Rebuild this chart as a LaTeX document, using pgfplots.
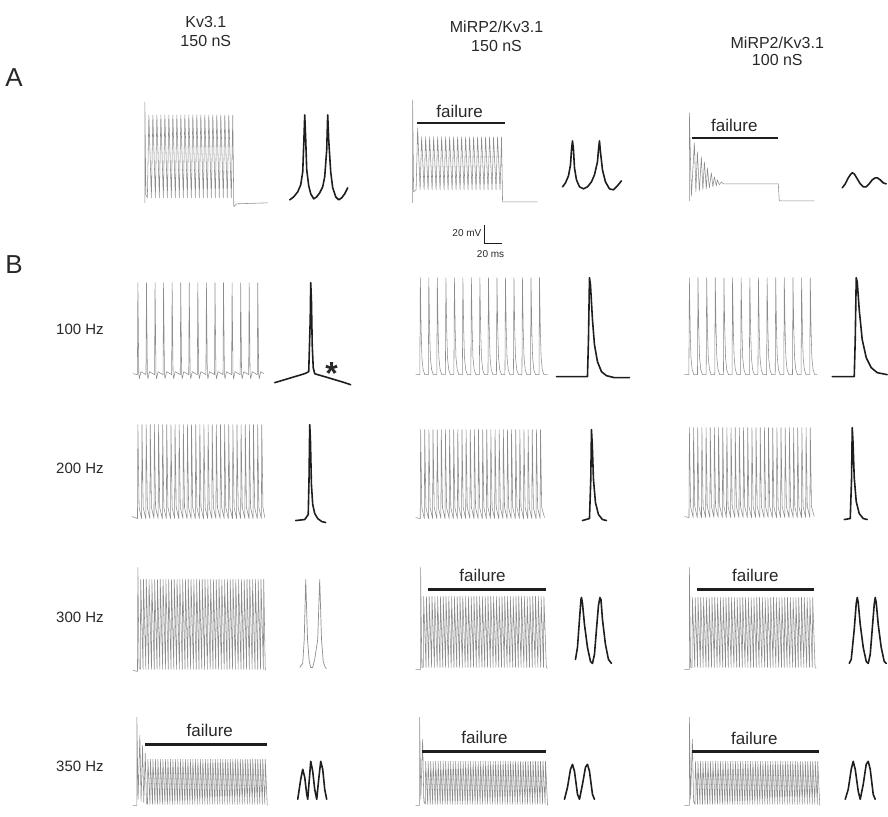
\documentclass[border=0pt]{standalone}
\usepackage{pgfplots}
\pgfplotsset{compat=1.18}
\usepackage{fontspec}
\setmainfont{Liberation Sans}
\definecolor{tr}{RGB}{140,140,140}
\definecolor{pk}{RGB}{30,30,30}
\definecolor{tx}{RGB}{40,40,40}
\begin{document}
\begin{tikzpicture}
\begin{axis}[
  scale only axis, width=888pt, height=817pt,
  xmin=0, xmax=888, ymin=0, ymax=817, y dir=reverse,
  hide axis, clip=false, no markers,
  trace/.style={tr, line width=0.55pt, line join=round},
  zoomed/.style={pk, line width=1.6pt, line join=round, line cap=round},
  bar/.style={pk, line width=2.4pt},
]
% frame that fixes the picture's extent (not drawn)
\addplot[draw=none] coordinates {(0,0)(888,817)};
% ---------- Row A ----------
\addplot[trace] coordinates {(145,203)(145,102)(146,195)(147.5,198)(149,115)(151.5,198)(153,115)(155.5,198)(157,115)(159.5,198)(161,115)(163.5,198)(165,115)(167.5,198)(169,115)(171.5,198)(173,115)(175.5,198)(177,115)(179.5,198)(181,115)(183.5,198)(185,115)(187.5,198)(189,115)(191.5,198)(193,115)(195.5,198)(197,115)(199.5,198)(201,115)(203.5,198)(205,115)(207.5,198)(209,115)(211.5,198)(213,115)(215.5,198)(217,115)(219.5,198)(221,115)(223.5,198)(225,115)(227.5,198)(229,115)(231.5,198)(233,115)(234,207)(237,204)(268,203)};
\addplot[zoomed] coordinates {(290,200)(294,197)(298,192)(301,185)(303,172)(304,145)(305,115)(306,140)(307,170)(309,186)(311,194)(314,199)(317,197)(320,193)(323,187)(325,177)(327,150)(328,115)(329,140)(331,172)(333,188)(336,197)(339,200)(342,198)(345,194)(348,188)};
\addplot[trace] coordinates {(413,203)(413,100)(414,192)(416.5,190)(418,128)(420.5,190)(422,137)(424.5,190)(426,137)(428.5,190)(430,137)(432.5,190)(434,137)(436.5,190)(438,137)(440.5,190)(442,137)(444.5,190)(446,137)(448.5,190)(450,137)(452.5,190)(454,137)(456.5,190)(458,137)(460.5,190)(462,137)(464.5,190)(466,137)(468.5,190)(470,137)(472.5,190)(474,137)(476.5,190)(478,137)(480.5,190)(482,137)(484.5,190)(486,137)(488.5,190)(490,137)(492.5,190)(494,137)(496.5,190)(498,137)(500.5,190)(502,137)(503,202)(538,202)};
\addplot[zoomed] coordinates {(563,187)(566,183)(569,176)(571,165)(572,150)(573,141)(574,150)(575,168)(577,180)(580,187)(584,189)(588,187)(592,182)(595,175)(598,162)(599,150)(600,141)(601,152)(603,170)(606,182)(610,189)(614,190)(618,186)(622,181)};
\addplot[trace] coordinates {(690,201)(690,113)(692,196)(695,143)(696.5,192)(698,152)(700,191)(702,157)(703.5,190)(705,162)(707,189)(708,168)(710,188)(712,173)(713.5,187)(715,177)(717,186)(718,180)(720,185)(722,182)(724,184)(779,184)(780,201)(815,201)};
\addplot[zoomed] coordinates {(843,188)(846,184)(849,178)(851,175)(853,173)(855,174)(858,179)(861,184)(864,187)(867,187)(870,184)(873,180)(876,178)(878,178)(881,180)(884,183)(887,184)};
\addplot[bar] coordinates {(417,123)(505,123)};
\addplot[bar] coordinates {(693,138)(779,138)};
% scale bar
\addplot[pk, line width=1.4pt] coordinates {(485,225)(485,244)(502,244)};
% ---------- 100 Hz ----------
\addplot[trace] coordinates {(133,374)(137.5,375)(138,283)(138.9,374)(139.5,379)(141,372)(146.1,375)(146.6,283)(147.5,374)(148.1,379)(149.6,372)(154.7,375)(155.2,283)(156.1,374)(156.7,379)(158.2,372)(163.2,375)(163.7,283)(164.6,374)(165.2,379)(166.7,372)(171.8,375)(172.3,283)(173.2,374)(173.8,379)(175.3,372)(180.4,375)(180.9,283)(181.8,374)(182.4,379)(183.9,372)(188.9,375)(189.4,283)(190.3,374)(190.9,379)(192.4,372)(197.5,375)(198,283)(198.9,374)(199.5,379)(201,372)(206.1,375)(206.6,283)(207.5,374)(208.1,379)(209.6,372)(214.7,375)(215.2,283)(216.1,374)(216.7,379)(218.2,372)(223.2,375)(223.7,283)(224.6,374)(225.2,379)(226.7,372)(231.8,375)(232.3,283)(233.2,374)(233.8,379)(235.3,372)(240.4,375)(240.9,283)(241.8,374)(242.4,379)(243.9,372)(248.9,375)(249.4,283)(250.3,374)(250.9,379)(252.4,372)(257.5,375)(258,283)(258.9,374)(259.5,379)(261,372)(264,374)};
\addplot[zoomed] coordinates {(275,383)(285,380)(295,377)(305,374)(309,372)(310.5,320)(311,283)(311.7,300)(312.5,345)(313.5,368)(315,374)(318,375)(325,377)(335,380)(345,383)(351,385)};
\addplot[trace] coordinates {(416,375)(420.2,375)(420.7,278)(421.5,330)(422.3,358)(423.5,370)(425.2,375)(428.7,375)(429.2,278)(430,330)(430.8,358)(432,370)(433.7,375)(437.2,375)(437.7,278)(438.5,330)(439.3,358)(440.5,370)(442.2,375)(445.8,375)(446.3,278)(447.1,330)(447.9,358)(449.1,370)(450.8,375)(454.3,375)(454.8,278)(455.6,330)(456.4,358)(457.6,370)(459.3,375)(462.8,375)(463.3,278)(464.1,330)(464.9,358)(466.1,370)(467.8,375)(471.3,375)(471.8,278)(472.6,330)(473.4,358)(474.6,370)(476.3,375)(479.8,375)(480.3,278)(481.1,330)(481.9,358)(483.1,370)(484.8,375)(488.4,375)(488.9,278)(489.7,330)(490.5,358)(491.7,370)(493.4,375)(496.9,375)(497.4,278)(498.2,330)(499,358)(500.2,370)(501.9,375)(505.4,375)(505.9,278)(506.7,330)(507.5,358)(508.7,370)(510.4,375)(513.9,375)(514.4,278)(515.2,330)(516,358)(517.2,370)(518.9,375)(522.4,375)(522.9,278)(523.7,330)(524.5,358)(525.7,370)(527.4,375)(531,375)(531.5,278)(532.3,330)(533.1,358)(534.3,370)(536,375)(539.5,375)(540,278)(540.8,330)(541.6,358)(542.8,370)(544.5,375)(548,375)};
\addplot[zoomed] coordinates {(557,377)(588,377)(589,340)(590,278)(591,285)(593,320)(595,345)(598,362)(602,372)(607,376)(615,378)(630,378)};
\addplot[trace] coordinates {(685,375)(689.5,375)(690,278)(690.8,330)(691.6,358)(692.8,370)(694.5,375)(698.1,375)(698.6,278)(699.4,330)(700.2,358)(701.4,370)(703.1,375)(706.8,375)(707.3,278)(708.1,330)(708.9,358)(710.1,370)(711.8,375)(715.4,375)(715.9,278)(716.7,330)(717.5,358)(718.7,370)(720.4,375)(724.1,375)(724.6,278)(725.4,330)(726.2,358)(727.4,370)(729.1,375)(732.7,375)(733.2,278)(734,330)(734.8,358)(736,370)(737.7,375)(741.3,375)(741.8,278)(742.6,330)(743.4,358)(744.6,370)(746.3,375)(750,375)(750.5,278)(751.3,330)(752.1,358)(753.3,370)(755,375)(758.6,375)(759.1,278)(759.9,330)(760.7,358)(761.9,370)(763.6,375)(767.3,375)(767.8,278)(768.6,330)(769.4,358)(770.6,370)(772.3,375)(775.9,375)(776.4,278)(777.2,330)(778,358)(779.2,370)(780.9,375)(784.5,375)(785,278)(785.8,330)(786.6,358)(787.8,370)(789.5,375)(793.2,375)(793.7,278)(794.5,330)(795.3,358)(796.5,370)(798.2,375)(801.8,375)(802.3,278)(803.1,330)(803.9,358)(805.1,370)(806.8,375)(810.5,375)(811,278)(811.8,330)(812.6,358)(813.8,370)(815.5,375)(818,375)};
\addplot[zoomed] coordinates {(833,377)(855,377)(856,340)(857,278)(858,282)(860,310)(863,340)(867,358)(872,368)(878,373)(888,375)};
% ---------- 200 Hz ----------
\addplot[trace] coordinates {(132,517)(137.6,519)(138,425)(139.2,508)(141.7,519)(142.1,425)(143.3,508)(145.9,519)(146.3,425)(147.5,508)(150,519)(150.4,425)(151.6,508)(154.1,519)(154.5,425)(155.7,508)(158.3,519)(158.7,425)(159.9,508)(162.4,519)(162.8,425)(164,508)(166.5,519)(166.9,425)(168.1,508)(170.7,519)(171.1,425)(172.3,508)(174.8,519)(175.2,425)(176.4,508)(178.9,519)(179.3,425)(180.5,508)(183.1,519)(183.5,425)(184.7,508)(187.2,519)(187.6,425)(188.8,508)(191.3,519)(191.7,425)(192.9,508)(195.5,519)(195.9,425)(197.1,508)(199.6,519)(200,425)(201.2,508)(203.7,519)(204.1,425)(205.3,508)(207.9,519)(208.3,425)(209.5,508)(212,519)(212.4,425)(213.6,508)(216.1,519)(216.5,425)(217.7,508)(220.3,519)(220.7,425)(221.9,508)(224.4,519)(224.8,425)(226,508)(228.5,519)(228.9,425)(230.1,508)(232.7,519)(233.1,425)(234.3,508)(236.8,519)(237.2,425)(238.4,508)(240.9,519)(241.3,425)(242.5,508)(245.1,519)(245.5,425)(246.7,508)(249.2,519)(249.6,425)(250.8,508)(253.3,519)(253.7,425)(254.9,508)(257.5,519)(257.9,425)(259.1,508)(261.6,519)(262,425)(263.2,508)(265,518)};
\addplot[zoomed] coordinates {(296,521)(305,520)(308.5,515)(309.3,480)(310,425)(310.7,440)(311.7,485)(313,505)(315,514)(318,519)(322,522)(326,523)};
\addplot[trace] coordinates {(416,518)(420.6,519)(421,430)(422.2,508)(424.7,519)(425.1,430)(426.3,508)(428.9,519)(429.3,430)(430.5,508)(433,519)(433.4,430)(434.6,508)(437.2,519)(437.6,430)(438.8,508)(441.3,519)(441.7,430)(442.9,508)(445.4,519)(445.8,430)(447,508)(449.6,519)(450,430)(451.2,508)(453.7,519)(454.1,430)(455.3,508)(457.8,519)(458.2,430)(459.4,508)(462,519)(462.4,430)(463.6,508)(466.1,519)(466.5,430)(467.7,508)(470.3,519)(470.7,430)(471.9,508)(474.4,519)(474.8,430)(476,508)(478.5,519)(478.9,430)(480.1,508)(482.7,519)(483.1,430)(484.3,508)(486.8,519)(487.2,430)(488.4,508)(490.9,519)(491.3,430)(492.5,508)(495.1,519)(495.5,430)(496.7,508)(499.2,519)(499.6,430)(500.8,508)(503.4,519)(503.8,430)(505,508)(507.5,519)(507.9,430)(509.1,508)(511.6,519)(512,430)(513.2,508)(515.8,519)(516.2,430)(517.4,508)(519.9,519)(520.3,430)(521.5,508)(524,519)(524.4,430)(525.6,508)(528.2,519)(528.6,430)(529.8,508)(532.3,519)(532.7,430)(533.9,508)(536.5,519)(536.9,430)(538.1,508)(540.6,519)(541,430)(542.2,508)(545,518)};
\addplot[zoomed] coordinates {(583,521)(590,519)(591.3,480)(592,430)(592.8,445)(594,480)(596,503)(599,515)(603,520)(607,521)};
\addplot[trace] coordinates {(685,517)(689.6,518)(690,428)(691.2,507)(693.8,518)(694.2,428)(695.4,507)(697.9,518)(698.3,428)(699.5,507)(702.1,518)(702.5,428)(703.7,507)(706.3,518)(706.7,428)(707.9,507)(710.5,518)(710.9,428)(712.1,507)(714.6,518)(715,428)(716.2,507)(718.8,518)(719.2,428)(720.4,507)(723,518)(723.4,428)(724.6,507)(727.1,518)(727.5,428)(728.7,507)(731.3,518)(731.7,428)(732.9,507)(735.5,518)(735.9,428)(737.1,507)(739.6,518)(740,428)(741.2,507)(743.8,518)(744.2,428)(745.4,507)(748,518)(748.4,428)(749.6,507)(752.2,518)(752.6,428)(753.8,507)(756.3,518)(756.7,428)(757.9,507)(760.5,518)(760.9,428)(762.1,507)(764.7,518)(765.1,428)(766.3,507)(768.8,518)(769.2,428)(770.4,507)(773,518)(773.4,428)(774.6,507)(777.2,518)(777.6,428)(778.8,507)(781.3,518)(781.7,428)(782.9,507)(785.5,518)(785.9,428)(787.1,507)(789.7,518)(790.1,428)(791.3,507)(793.9,518)(794.3,428)(795.5,507)(798,518)(798.4,428)(799.6,507)(802.2,518)(802.6,428)(803.8,507)(806.4,518)(806.8,428)(808,507)(810.6,518)(811,428)(812.2,507)(815,517)};
\addplot[zoomed] coordinates {(845,520)(851,519)(852.3,480)(853,428)(853.8,443)(855,478)(857,502)(860,514)(864,519)(868,520)};
% ---------- 300 Hz ----------
\addplot[trace] coordinates {(133,671)(137.6,672)(138,568)(139.2,668)(140.4,670)(140.8,580)(143.2,670)(143.6,580)(146,670)(146.4,580)(148.8,670)(149.2,580)(151.6,670)(152,580)(154.4,670)(154.8,580)(157.2,670)(157.6,580)(160,670)(160.4,580)(162.8,670)(163.2,580)(165.6,670)(166,580)(168.4,670)(168.8,580)(171.2,670)(171.6,580)(174,670)(174.4,580)(176.8,670)(177.2,580)(179.6,670)(180,580)(182.4,670)(182.8,580)(185.2,670)(185.6,580)(188,670)(188.4,580)(190.8,670)(191.2,580)(193.6,670)(194,580)(196.4,670)(196.8,580)(199.2,670)(199.6,580)(202,670)(202.4,580)(204.8,670)(205.2,580)(207.6,670)(208,580)(210.4,670)(210.8,580)(213.2,670)(213.6,580)(216,670)(216.4,580)(218.8,670)(219.2,580)(221.6,670)(222,580)(224.4,670)(224.8,580)(227.2,670)(227.6,580)(230,670)(230.4,580)(232.8,670)(233.2,580)(235.6,670)(236,580)(238.4,670)(238.8,580)(241.2,670)(241.6,580)(244,670)(244.4,580)(246.8,670)(247.2,580)(249.6,670)(250,580)(252.4,670)(252.8,580)(255.2,670)(255.6,580)(258,670)(258.4,580)(260.8,670)(261.2,580)(263.6,670)(264,580)(265.5,671)};
\addplot[tr, line width=0.7pt] coordinates {(300,668)(303,664)(304.5,640)(305.5,600)(306,580)(306.6,600)(307.8,640)(309.5,662)(311,668)(313,668)(315,660)(318,640)(319.3,600)(320,580)(320.6,600)(321.8,640)(323.5,662)(325.5,668)(327,669)};
\addplot[trace] coordinates {(416,670)(421,670)(421,568)(422.2,668)(423.6,668)(424,597)(426.4,668)(426.8,597)(429.2,668)(429.6,597)(432,668)(432.4,597)(434.8,668)(435.2,597)(437.6,668)(438,597)(440.4,668)(440.8,597)(443.2,668)(443.6,597)(446,668)(446.4,597)(448.8,668)(449.2,597)(451.6,668)(452,597)(454.4,668)(454.8,597)(457.2,668)(457.6,597)(460,668)(460.4,597)(462.8,668)(463.2,597)(465.6,668)(466,597)(468.4,668)(468.8,597)(471.2,668)(471.6,597)(474,668)(474.4,597)(476.8,668)(477.2,597)(479.6,668)(480,597)(482.4,668)(482.8,597)(485.2,668)(485.6,597)(488,668)(488.4,597)(490.8,668)(491.2,597)(493.6,668)(494,597)(496.4,668)(496.8,597)(499.2,668)(499.6,597)(502,668)(502.4,597)(504.8,668)(505.2,597)(507.6,668)(508,597)(510.4,668)(510.8,597)(513.2,668)(513.6,597)(516,668)(516.4,597)(518.8,668)(519.2,597)(521.6,668)(522,597)(524.4,668)(524.8,597)(527.2,668)(527.6,597)(530,668)(530.4,597)(532.8,668)(533.2,597)(535.6,668)(536,597)(538.4,668)(538.8,597)(541.2,668)(541.6,597)(544,668)(544.4,597)(546.8,668)(548,669)};
\addplot[zoomed] coordinates {(576,660)(578,648)(580,620)(581.5,600)(582,598)(583,604)(585,625)(588,648)(591,662)(593,664)(595,655)(597,630)(599,606)(600.5,598)(601.5,600)(603,620)(606,645)(609,660)(612,664)};
\addplot[trace] coordinates {(685,670)(690,670)(690,568)(691.2,668)(692.6,668)(693,598)(695.4,668)(695.8,598)(698.2,668)(698.6,598)(701,668)(701.4,598)(703.8,668)(704.2,598)(706.6,668)(707,598)(709.4,668)(709.8,598)(712.2,668)(712.6,598)(715,668)(715.4,598)(717.8,668)(718.2,598)(720.6,668)(721,598)(723.4,668)(723.8,598)(726.2,668)(726.6,598)(729,668)(729.4,598)(731.8,668)(732.2,598)(734.6,668)(735,598)(737.4,668)(737.8,598)(740.2,668)(740.6,598)(743,668)(743.4,598)(745.8,668)(746.2,598)(748.6,668)(749,598)(751.4,668)(751.8,598)(754.2,668)(754.6,598)(757,668)(757.4,598)(759.8,668)(760.2,598)(762.6,668)(763,598)(765.4,668)(765.8,598)(768.2,668)(768.6,598)(771,668)(771.4,598)(773.8,668)(774.2,598)(776.6,668)(777,598)(779.4,668)(779.8,598)(782.2,668)(782.6,598)(785,668)(785.4,598)(787.8,668)(788.2,598)(790.6,668)(791,598)(793.4,668)(793.8,598)(796.2,668)(796.6,598)(799,668)(799.4,598)(801.8,668)(802.2,598)(804.6,668)(805,598)(807.4,668)(807.8,598)(810.2,668)(810.6,598)(813,668)(813.4,598)(815.8,668)(817,669)};
\addplot[zoomed] coordinates {(850,664)(852,660)(855,630)(857,604)(858,598)(859,603)(861,625)(864,648)(867,662)(869,664)(871,655)(873,630)(875,605)(876,598)(877,603)(879,625)(882,648)(885,662)(887,664)};
\addplot[bar] coordinates {(428,590)(546,590)};
\addplot[bar] coordinates {(698,590)(815,590)};
% ---------- 350 Hz ----------
\addplot[trace] coordinates {(133,806)(137,806)(137,718)(138.2,800)(140,736)(141.2,802)(142.7,746)(143.9,803)(145.4,754)(146.6,804)(147.6,805)(148,760)(150.1,805)(150.5,760)(152.6,805)(153,760)(155.1,805)(155.5,760)(157.6,805)(158,760)(160.1,805)(160.5,760)(162.6,805)(163,760)(165.1,805)(165.5,760)(167.6,805)(168,760)(170.1,805)(170.5,760)(172.6,805)(173,760)(175.1,805)(175.5,760)(177.6,805)(178,760)(180.1,805)(180.5,760)(182.6,805)(183,760)(185.1,805)(185.5,760)(187.6,805)(188,760)(190.1,805)(190.5,760)(192.6,805)(193,760)(195.1,805)(195.5,760)(197.6,805)(198,760)(200.1,805)(200.5,760)(202.6,805)(203,760)(205.1,805)(205.5,760)(207.6,805)(208,760)(210.1,805)(210.5,760)(212.6,805)(213,760)(215.1,805)(215.5,760)(217.6,805)(218,760)(220.1,805)(220.5,760)(222.6,805)(223,760)(225.1,805)(225.5,760)(227.6,805)(228,760)(230.1,805)(230.5,760)(232.6,805)(233,760)(235.1,805)(235.5,760)(237.6,805)(238,760)(240.1,805)(240.5,760)(242.6,805)(243,760)(245.1,805)(245.5,760)(247.6,805)(248,760)(250.1,805)(250.5,760)(252.6,805)(253,760)(255.1,805)(255.5,760)(257.6,805)(258,760)(260.1,805)(260.5,760)(262.6,805)(263,760)(265.1,805)(265.5,760)(267.5,806)};
\addplot[zoomed] coordinates {(298,800)(301,780)(303,770)(305,778)(307,795)(308,800)(310,775)(311,762)(313,772)(315,790)(317,800)(319,780)(321,762)(323,770)(325,790)(327,800)};
\addplot[trace] coordinates {(416,806)(420,806)(420,718)(421.2,800)(423,740)(424.2,802)(425.6,805)(426,762)(428.1,805)(428.5,762)(430.6,805)(431,762)(433.1,805)(433.5,762)(435.6,805)(436,762)(438.1,805)(438.5,762)(440.6,805)(441,762)(443.1,805)(443.5,762)(445.6,805)(446,762)(448.1,805)(448.5,762)(450.6,805)(451,762)(453.1,805)(453.5,762)(455.6,805)(456,762)(458.1,805)(458.5,762)(460.6,805)(461,762)(463.1,805)(463.5,762)(465.6,805)(466,762)(468.1,805)(468.5,762)(470.6,805)(471,762)(473.1,805)(473.5,762)(475.6,805)(476,762)(478.1,805)(478.5,762)(480.6,805)(481,762)(483.1,805)(483.5,762)(485.6,805)(486,762)(488.1,805)(488.5,762)(490.6,805)(491,762)(493.1,805)(493.5,762)(495.6,805)(496,762)(498.1,805)(498.5,762)(500.6,805)(501,762)(503.1,805)(503.5,762)(505.6,805)(506,762)(508.1,805)(508.5,762)(510.6,805)(511,762)(513.1,805)(513.5,762)(515.6,805)(516,762)(518.1,805)(518.5,762)(520.6,805)(521,762)(523.1,805)(523.5,762)(525.6,805)(526,762)(528.1,805)(528.5,762)(530.6,805)(531,762)(533.1,805)(533.5,762)(535.6,805)(536,762)(538.1,805)(538.5,762)(540.6,805)(541,762)(543.1,805)(543.5,762)(545.6,805)(546,762)(548,806)};
\addplot[zoomed] coordinates {(565,800)(568,788)(571,770)(573,765)(575,772)(578,795)(580,800)(583,785)(586,768)(588,765)(590,772)(593,795)(595,800)};
\addplot[trace] coordinates {(685,806)(690,806)(690,718)(691.2,800)(693,740)(694.2,802)(695.6,805)(696,762)(698.1,805)(698.5,762)(700.6,805)(701,762)(703.1,805)(703.5,762)(705.6,805)(706,762)(708.1,805)(708.5,762)(710.6,805)(711,762)(713.1,805)(713.5,762)(715.6,805)(716,762)(718.1,805)(718.5,762)(720.6,805)(721,762)(723.1,805)(723.5,762)(725.6,805)(726,762)(728.1,805)(728.5,762)(730.6,805)(731,762)(733.1,805)(733.5,762)(735.6,805)(736,762)(738.1,805)(738.5,762)(740.6,805)(741,762)(743.1,805)(743.5,762)(745.6,805)(746,762)(748.1,805)(748.5,762)(750.6,805)(751,762)(753.1,805)(753.5,762)(755.6,805)(756,762)(758.1,805)(758.5,762)(760.6,805)(761,762)(763.1,805)(763.5,762)(765.6,805)(766,762)(768.1,805)(768.5,762)(770.6,805)(771,762)(773.1,805)(773.5,762)(775.6,805)(776,762)(778.1,805)(778.5,762)(780.6,805)(781,762)(783.1,805)(783.5,762)(785.6,805)(786,762)(788.1,805)(788.5,762)(790.6,805)(791,762)(793.1,805)(793.5,762)(795.6,805)(796,762)(798.1,805)(798.5,762)(800.6,805)(801,762)(803.1,805)(803.5,762)(805.6,805)(806,762)(808.1,805)(808.5,762)(810.6,805)(811,762)(813.1,805)(813.5,762)(815.6,805)(816,762)(818.1,805)(818.5,762)(820.5,806)};
\addplot[zoomed] coordinates {(846,800)(849,790)(852,770)(854,762)(856,770)(859,792)(861,800)(864,785)(867,765)(869,762)(871,770)(874,795)(876,800)};
\addplot[bar] coordinates {(145,745)(267,745)};
\addplot[bar] coordinates {(422,752)(546,752)};
\addplot[bar] coordinates {(693,752)(820,752)};
% ---------- Text ----------
\begin{scope}[every node/.style={text=tx, font=\fontsize{15}{17}\selectfont, inner sep=0pt}]
\node[font=\fontsize{16}{18}\selectfont] at (axis cs:206,22) {Kv3.1};
\node[font=\fontsize{16}{18}\selectfont] at (axis cs:206,41) {150 nS};
\node[font=\fontsize{16}{18}\selectfont] at (axis cs:497,27) {MiRP2/Kv3.1};
\node[font=\fontsize{16}{18}\selectfont] at (axis cs:497,46) {150 nS};
\node[font=\fontsize{16}{18}\selectfont] at (axis cs:778,43) {MiRP2/Kv3.1};
\node[font=\fontsize{16}{18}\selectfont] at (axis cs:778,60) {100 nS};
\node[font=\fontsize{26}{28}\selectfont] at (axis cs:14,78) {A};
\node[font=\fontsize{26}{28}\selectfont] at (axis cs:14,265) {B};
\node at (axis cs:80,330) {100 Hz};
\node at (axis cs:80,469) {200 Hz};
\node at (axis cs:80,618) {300 Hz};
\node at (axis cs:80,767) {350 Hz};
\begin{scope}[every node/.append style={font=\fontsize{17}{19}\selectfont}]
\node at (axis cs:460,112) {failure};
\node at (axis cs:735,126) {failure};
\node at (axis cs:483,576) {failure};
\node at (axis cs:756,576) {failure};
\node at (axis cs:210,731) {failure};
\node at (axis cs:485,738) {failure};
\node at (axis cs:755,739) {failure};
\end{scope}
\node[font=\fontsize{10}{11}\selectfont, anchor=east] at (axis cs:482,233) {20 mV};
\node[font=\fontsize{10}{11}\selectfont] at (axis cs:491,254) {20 ms};
\node[font=\bfseries\fontsize{32}{34}\selectfont, anchor=base] at (axis cs:332,385) {*};
\end{scope}
\end{axis}
\end{tikzpicture}
\end{document}
